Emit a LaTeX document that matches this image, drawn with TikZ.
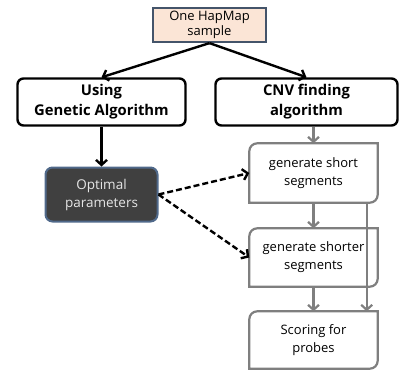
\documentclass[tikz,border=0pt]{standalone}
\usepackage{fontspec}
\setmainfont{Open Sans}
\usetikzlibrary{arrows.meta}
\definecolor{peach}{HTML}{FBE5D6}
\definecolor{slateb}{HTML}{44546A}
\definecolor{darkfill}{HTML}{404040}
\definecolor{darkbord}{HTML}{50698A}
\definecolor{graybord}{HTML}{7F7F7F}
\definecolor{lighttext}{HTML}{E6E6E6}
\tikzset{
  topbox/.style={draw=slateb, fill=peach, line width=2.2pt, minimum width=113pt, minimum height=34pt, inner sep=0pt, align=center, font=\fontsize{13}{15}\selectfont},
  boldbox/.style={draw=black, line width=2.4pt, rounded corners=6pt, inner sep=0pt, align=center, font=\fontsize{14.8}{20}\selectfont\bfseries},
  darkbox/.style={draw=darkbord, fill=darkfill, line width=2pt, rounded corners=7pt, minimum width=112pt, minimum height=54pt, inner sep=0pt, align=center, text=lighttext, font=\fontsize{13.5}{18}\selectfont},
  graybox/.style={minimum width=128pt, inner sep=0pt, align=center, font=\fontsize{13}{18}\selectfont},
  grayline/.style={draw=graybord, line width=2.2pt},
  blackarrow/.style={draw=black, line width=2.4pt, -{Straight Barb[length=5pt,width=11pt]}},
  grayarrow/.style={draw=graybord, line width=2.2pt, -{Straight Barb[length=5pt,width=11pt]}},
  dasharrow/.style={draw=black, line width=2.4pt, dashed, dash pattern=on 6pt off 3pt, -{Straight Barb[length=5pt,width=11pt]}}
}
\newcommand{\diagframe}[1]{%
  \draw[grayline] (#1.north east) -- ([yshift=8pt]#1.south east)
    arc[start angle=0,end angle=-90,radius=8pt] -- (#1.south west)
    -- ([yshift=-8pt]#1.north west) arc[start angle=180,end angle=90,radius=8pt] -- cycle;}
\begin{document}
\begin{tikzpicture}[x=1pt,y=-1pt]
\useasboundingbox (0,0) rectangle (400,370);
\node[topbox] (hap) at (209.5,25) {One HapMap\\sample};
\node[boldbox, minimum width=168pt, minimum height=47pt] (ga) at (101.5,102) {Using\\Genetic Algorithm};
\node[boldbox, minimum width=182pt, minimum height=47pt] (cnv) at (306.5,102) {CNV finding\\algorithm};
\node[darkbox] (opt) at (101.5,194.5) {Optimal\\parameters};
\node[graybox, minimum height=59pt] (b1) at (313.5,173) {generate short\\segments};
\node[graybox, minimum height=58pt] (b2) at (313.5,257.5) {generate shorter\\segments};
\node[graybox, minimum height=57pt] (b3) at (313.5,340) {Scoring for\\probes};
\diagframe{b1}
\diagframe{b2}
\diagframe{b3}
\draw[blackarrow] (hap.south) -- (ga.north);
\draw[blackarrow] (hap.south) -- (cnv.north);
\draw[blackarrow] (ga.south) -- (opt.north);
\draw[grayarrow] (cnv.south -| b1.north) -- (b1.north);
\draw[grayarrow] (b1.south) -- (b2.north);
\draw[grayarrow] (b2.south) -- (b3.north);
\draw[grayarrow] ([xshift=-11pt]b1.south east) -- ([xshift=-11pt]b3.north east);
\draw[dasharrow] (opt.east) -- (b1.west);
\draw[dasharrow] (opt.east) -- (b2.west);
\end{tikzpicture}
\end{document}
